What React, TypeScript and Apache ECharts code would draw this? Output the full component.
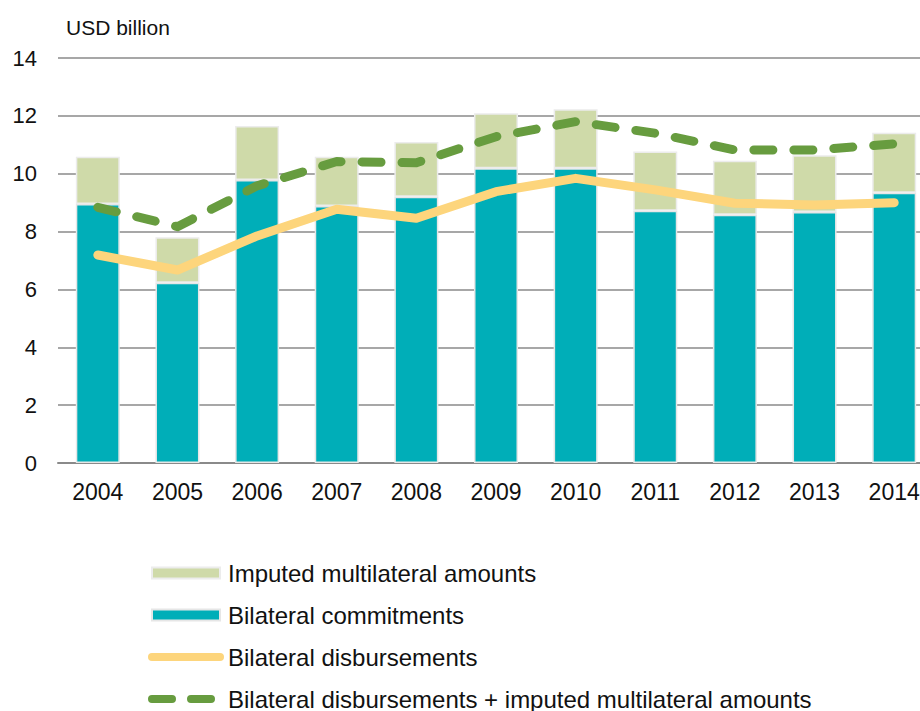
import React, { useEffect, useRef } from "react";
import * as echarts from "echarts";

const years = ["2004", "2005", "2006", "2007", "2008", "2009", "2010", "2011", "2012", "2013", "2014"];
const bilateralCommitments = [8.95, 6.23, 9.78, 8.88, 9.2, 10.19, 10.19, 8.72, 8.58, 8.68, 9.34];
const imputedMultilateral = [1.64, 1.57, 1.87, 1.71, 1.9, 1.9, 2.04, 2.05, 1.87, 1.96, 2.08];
const bilateralDisbursements = [7.19, 6.67, 7.85, 8.77, 8.46, 9.38, 9.84, 9.44, 8.98, 8.92, 9.0];
const disbPlusImputed = [8.84, 8.17, 9.58, 10.42, 10.38, 11.28, 11.8, 11.4, 10.82, 10.82, 11.03];

const FONT = "'Liberation Sans', Arial, sans-serif";

export default function App() {
  const ref = useRef<HTMLDivElement>(null);
  useEffect(() => {
    if (!ref.current) return;
    const chart = echarts.init(ref.current, undefined, { renderer: "svg" });
    chart.setOption({
      animation: false,
      backgroundColor: "#ffffff",
      textStyle: { fontFamily: FONT },
      title: {
        text: "USD billion",
        left: 66,
        top: 17,
        padding: 0,
        textStyle: { fontSize: 21, fontWeight: "normal", color: "#111", fontFamily: FONT },
      },
      grid: { left: 58, right: 0, top: 58, bottom: 297, containLabel: false },
      legend: {
        orient: "vertical",
        left: 148,
        top: 561,
        padding: 0,
        itemWidth: 68,
        itemHeight: 11,
        itemGap: 18,
        textStyle: { fontSize: 24, color: "#111", lineHeight: 24, fontFamily: FONT, padding: [0, 0, 0, 3] },
        data: [
          { name: "Imputed multilateral amounts", icon: "rect" },
          { name: "Bilateral commitments", icon: "rect" },
          {
            name: "Bilateral disbursements",
            lineStyle: { width: 8 },
            itemStyle: { opacity: 0 },
          },
          {
            name: "Bilateral disbursements + imputed multilateral amounts",
            lineStyle: { width: 8, type: [20, 19], dashOffset: 0 },
            itemStyle: { opacity: 0 },
          },
        ],
      },
      xAxis: {
        type: "category",
        data: years,
        axisLine: { show: true, lineStyle: { color: "#8a8a8a", width: 2 } },
        axisTick: { show: false },
        axisLabel: { fontSize: 23, color: "#111", margin: 17, fontFamily: FONT },
        splitLine: { show: false },
      },
      yAxis: {
        type: "value",
        min: 0,
        max: 14,
        interval: 2,
        axisLine: { show: false },
        axisTick: { show: false },
        axisLabel: { fontSize: 22, color: "#111", margin: 21, fontFamily: FONT },
        splitLine: { show: true, lineStyle: { color: "#8a8a8a", width: 1.5 } },
      },
      series: [
        {
          name: "Bilateral commitments",
          type: "bar",
          stack: "total",
          barWidth: 44,
          data: bilateralCommitments,
          itemStyle: { color: "#00AEB8", borderColor: "#e6e6e6", borderWidth: 1.5 },
        },
        {
          name: "Imputed multilateral amounts",
          type: "bar",
          stack: "total",
          barWidth: 44,
          data: imputedMultilateral,
          itemStyle: { color: "#CFDAA9", borderColor: "#ececec", borderWidth: 1.5 },
        },
        {
          name: "Bilateral disbursements",
          type: "line",
          data: bilateralDisbursements,
          symbol: "none",
          showSymbol: false,
          itemStyle: { color: "#FDD57C" },
          lineStyle: { color: "#FDD57C", width: 9, cap: "round", join: "round" },
          z: 3,
        },
        {
          name: "Bilateral disbursements + imputed multilateral amounts",
          type: "line",
          data: disbPlusImputed,
          symbol: "none",
          showSymbol: false,
          itemStyle: { color: "#679C3F" },
          lineStyle: { color: "#679C3F", width: 9, type: [19, 21], cap: "round", join: "round" },
          z: 4,
        },
      ],
    });
    return () => chart.dispose();
  }, []);
  return (
    <div style={{ position: "absolute", left: 0, top: 0, width: 920, height: 711, overflow: "hidden" }}>
      <div ref={ref} style={{ position: "absolute", left: 0, top: 0, width: 934, height: 760 }} />
    </div>
  );
}
